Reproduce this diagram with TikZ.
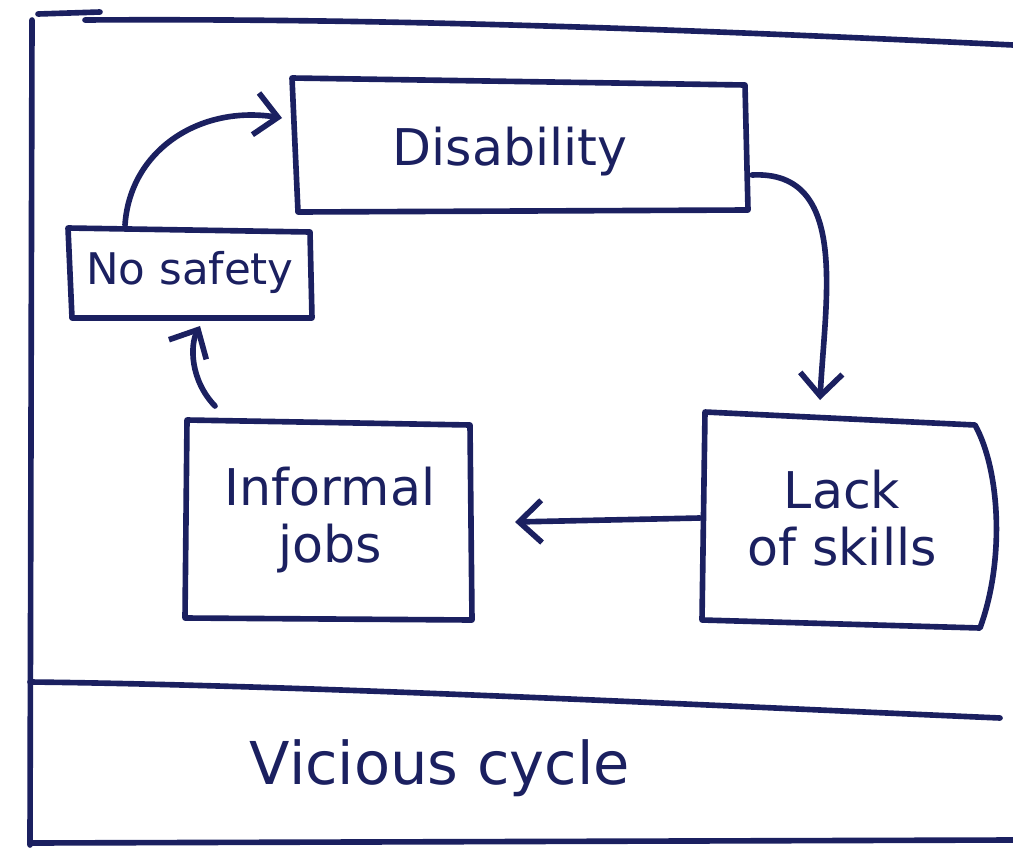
\documentclass[tikz,border=0pt]{standalone}
\usepackage{fontspec}
\setmainfont{DejaVu Sans}
\usetikzlibrary{arrows.meta}
\definecolor{ink}{HTML}{1B2060}
\tikzset{
  ink line/.style={draw=ink, line width=4pt, line cap=round, line join=round},
  label text/.style={text=ink, font=\fontsize{36}{40}\selectfont, align=center},
  flow/.style={ink line, -{Straight Barb[length=16pt, width=30pt]}},
}
\begin{document}
\begin{tikzpicture}[x=0.025cm, y=-0.025cm]
  \useasboundingbox (0,0) rectangle (1013,849);
  \fill[white] (0,0) rectangle (1013,849);

  % outer frame
  \draw[ink line] (32,20) -- (30,845);
  \draw[ink line] (38,14) -- (100,12);
  \draw[ink line] (85,20) .. controls (400,18) and (700,30) .. (1013,45);
  \draw[ink line] (30,682) .. controls (300,685) and (700,705) .. (1000,718);
  \draw[ink line] (30,843) -- (1013,840);

  % boxes
  \draw[ink line] (292,78) -- (745,85) -- (748,210) -- (298,212) -- cycle;
  \node[label text] (disab) at (510,152) {Disability};

  \draw[ink line] (68,228) -- (310,232) -- (312,318) -- (72,318) -- cycle;
  \node[label text, font=\fontsize{31}{34}\selectfont] (safety) at (190,272) {No safety};

  \draw[ink line] (187,420) -- (470,425) -- (472,620) -- (185,618) -- cycle;
  \node[label text] (jobs) at (330,520) {Informal\\jobs};

  \draw[ink line] (705,412) -- (975,425) .. controls (1000,470) and (1005,560) .. (980,628) -- (702,620) -- cycle;
  \node[label text] (skills) at (842,518) {Lack\\of skills};

  % connectors
  \coordinate (nsTop) at (125,225);
  \coordinate (disL) at (282,118);
  \coordinate (disR) at (752,175);
  \coordinate (lackT) at (820,400);
  \coordinate (lackL) at (700,518);
  \coordinate (infR) at (515,522);
  \coordinate (infT) at (215,406);
  \coordinate (nsBot) at (200,326);
  \draw[flow] (nsTop) .. controls (130,150) and (200,105) .. (disL);
  \draw[flow] (disR) .. controls (850,170) and (825,300) .. (lackT);
  \draw[flow] (lackL) -- (infR);
  \draw[flow] (infT) .. controls (190,380) and (190,345) .. (nsBot);

  \node[label text, font=\fontsize{42}{46}\selectfont] (title) at (440,768) {Vicious cycle};
\end{tikzpicture}
\end{document}
